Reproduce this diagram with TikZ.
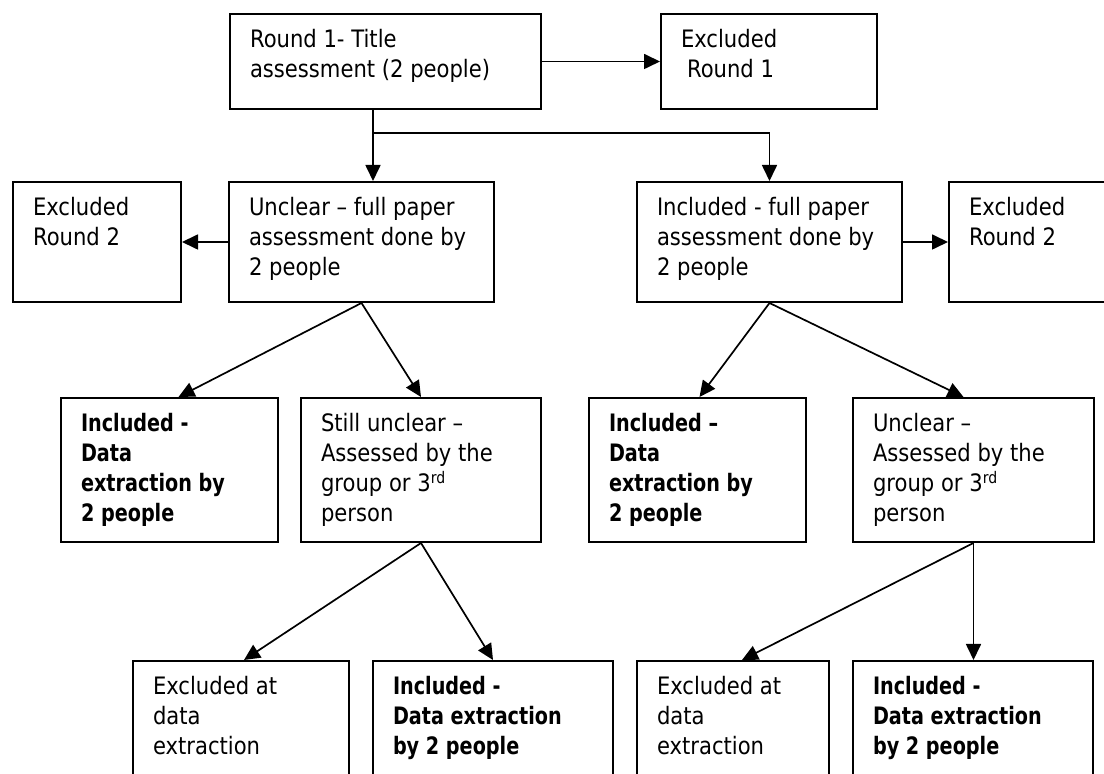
\documentclass[tikz,border=0pt]{standalone}
\usepackage{fontspec}
\setmainfont{DejaVu Sans}[FakeStretch=0.88,BoldFeatures={FakeStretch=0.8}]
\usetikzlibrary{arrows.meta}
\newcommand{\boxtext}[3]{\parbox[c][#2][t]{#1}{\raggedright\rule{0pt}{17pt}#3}}
\tikzset{>={Triangle[length=8pt,width=7.5pt]},
box/.style={draw, line width=1pt, anchor=north west, inner xsep=10pt, inner ysep=0pt,
font=\fontsize{12pt}{15pt}\selectfont},
link/.style={->, line width=0.85pt},
}

\begin{document}
\begin{tikzpicture}[x=0.5pt, y=-0.5pt]
	\useasboundingbox (0,0) rectangle (1104,774);
	\clip (0,0) rectangle (1104,774);
	\node[box] (r1) at (229,13) {\boxtext{135.5pt}{47.5pt}{Round 1- Title\\assessment (2 people)}};
	\node[box] (exr1) at (660,13) {\boxtext{88pt}{47.5pt}{Excluded\\\hspace*{3pt}Round 1}};
	\node[box] (exr2l) at (12,181) {\boxtext{64pt}{60pt}{Excluded\\Round 2}};
	\node[box] (unc) at (228,181) {\boxtext{112.5pt}{60pt}{Unclear \textendash{} full paper\\assessment done by\\2 people}};
	\node[box] (inc) at (636,181) {\boxtext{112.5pt}{60pt}{Included - full paper\\assessment done by\\2 people}};
	\node[box] (exr2r) at (948,181) {\boxtext{64pt}{60pt}{Excluded\\Round 2}};
	\node[box] (incda) at (60,397) {\boxtext{88.5pt}{72pt}{\bfseries Included -\\Data\\extraction by\\2 people}};
	\node[box] (stu) at (300,397) {\boxtext{100pt}{72pt}{Still unclear \textendash\\Assessed by the\\group or 3\textsuperscript{rd}\\person}};
	\node[box] (incdb) at (588,397) {\boxtext{88.5pt}{72pt}{\bfseries Included \textendash\\Data\\extraction by\\2 people}};
	\node[box] (uncb) at (852,397) {\boxtext{100.5pt}{72pt}{Unclear \textendash\\Assessed by the\\group or 3\textsuperscript{rd}\\person}};
	\node[box] (exda) at (132,660) {\boxtext{88pt}{75pt}{Excluded at\\data\\extraction}};
	\node[box] (incdc) at (372,660) {\boxtext{100pt}{75pt}{\bfseries Included -\\Data extraction\\by 2 people}};
	\node[box] (exdb) at (636,660) {\boxtext{76pt}{75pt}{Excluded at\\data\\extraction}};
	\node[box] (incdd) at (852,660) {\boxtext{100pt}{75pt}{\bfseries Included -\\Data extraction\\by 2 people}};
	\coordinate (split) at (373,133);
	\draw[link] (r1.east) -- (exr1.west);
	\draw[link] (r1.south -| split) -- (unc.north -| split);
	\draw[link] (split) -| (inc.north);
	\draw[link] (unc.west) -- (exr2l.east);
	\draw[link] (inc.east) -- (exr2r.west);
	\draw[link] (unc.south) -- ([xshift=4.5pt]incda.north);
	\draw[link] (unc.south) -- (stu.north);
	\draw[link] (inc.south) -- ([xshift=1pt]incdb.north);
	\draw[link] (inc.south) -- ([xshift=-5pt]uncb.north);
	\draw[link] (stu.south) -- ([xshift=1.5pt]exda.north);
	\draw[link] (stu.south) -- (incdc.north);
	\draw[link] (uncb.south) -- ([xshift=4.5pt]exdb.north);
	\draw[link] (uncb.south) -- (uncb.south |- incdd.north);
\end{tikzpicture}
\end{document}
